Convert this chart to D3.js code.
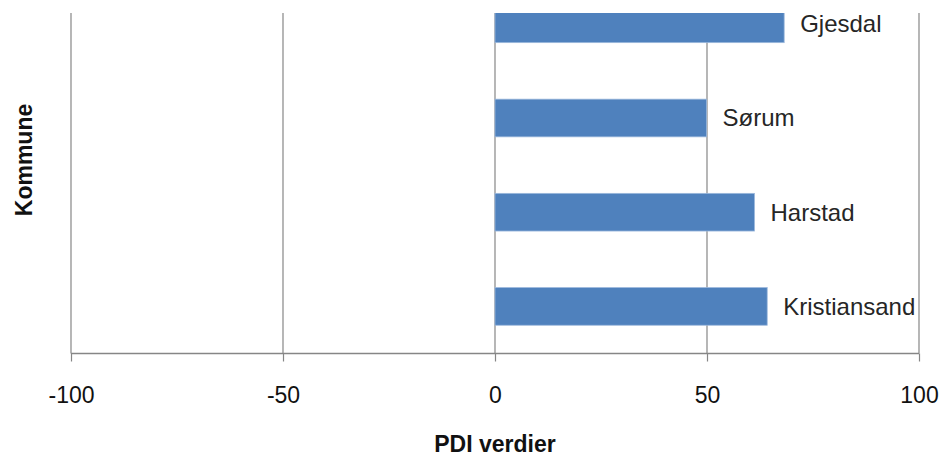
<!DOCTYPE html>
<html><head><meta charset="utf-8">
<script src="https://cdn.jsdelivr.net/npm/d3@7"></script>
<style>html,body{margin:0;padding:0;background:#fff;}svg{display:block;}</style>
</head><body>
<svg id="chart" width="943" height="459"></svg>
<script>
const categories = ["Kristiansand", "Harstad", "Sørum", "Gjesdal"];
const values = [64.2, 61.2, 49.9, 68.2];
const xTicks = [-100, -50, 0, 50, 100];
const xTickLabels = ["-100", "-50", "0", "50", "100"];
const xTitle = "PDI verdier";
const yTitle = "Kommune";

const svg = d3.select("#chart");
const W = 943, H = 459;
const left = 71, right = 919, plotTop = 13, bottom = 353.5;
const font = "'Liberation Sans', Arial, sans-serif";

const x = d3.scaleLinear().domain([-100, 100]).range([left, right]);
const y = d3.scaleBand().domain(categories).range([bottom, bottom - 4 * 94.2])
  .paddingInner(0.6).paddingOuter(0.3);

svg.append("defs").append("clipPath").attr("id", "clip")
  .append("rect").attr("x", 0).attr("y", plotTop).attr("width", W).attr("height", bottom - plotTop + 1);

// gridlines
svg.append("g").selectAll("line").data(xTicks).join("line")
  .attr("x1", d => x(d)).attr("x2", d => x(d))
  .attr("y1", plotTop).attr("y2", bottom)
  .attr("stroke", "#868686").attr("stroke-width", 1.2);

// bars
svg.append("g").attr("clip-path", "url(#clip)").selectAll("rect").data(categories).join("rect")
  .attr("x", x(0))
  .attr("y", d => y(d))
  .attr("width", (d, i) => x(values[i]) - x(0))
  .attr("height", y.bandwidth())
  .attr("fill", "#4f81bd").attr("stroke", "#9cb8dc").attr("stroke-width", 0.8);

// bar labels
svg.append("g").selectAll("text").data(categories).join("text")
  .attr("x", (d, i) => x(values[i]) + 16)
  .attr("y", d => y(d) + y.bandwidth() / 2)
  .attr("dy", "0.35em")
  .attr("font-family", font).attr("font-size", 24).attr("fill", "#262626")
  .text(d => d);

// x axis
const axis = d3.axisBottom(x).tickValues(xTicks).tickSize(8).tickPadding(25)
  .tickFormat((d, i) => xTickLabels[i]);
const gx = svg.append("g").attr("transform", `translate(0,${bottom})`).call(axis);
gx.select(".domain").attr("stroke", "#868686").attr("stroke-width", 1.5)
  .attr("d", `M${left},0H${right}`);
gx.selectAll(".tick line").attr("stroke", "#868686").attr("stroke-width", 1.2);
gx.selectAll(".tick text").attr("font-family", font).attr("font-size", 23).attr("fill", "#111")
  .attr("dy", "0.71em");

// titles
svg.append("text").attr("x", x(0)).attr("y", 452)
  .attr("text-anchor", "middle").attr("font-family", font).attr("font-weight", "bold")
  .attr("font-size", 23).attr("fill", "#111").text(xTitle);
svg.append("text").attr("transform", "translate(32,160) rotate(-90)")
  .attr("text-anchor", "middle").attr("font-family", font).attr("font-weight", "bold")
  .attr("font-size", 23).attr("fill", "#111").text(yTitle);
</script>
</body></html>
